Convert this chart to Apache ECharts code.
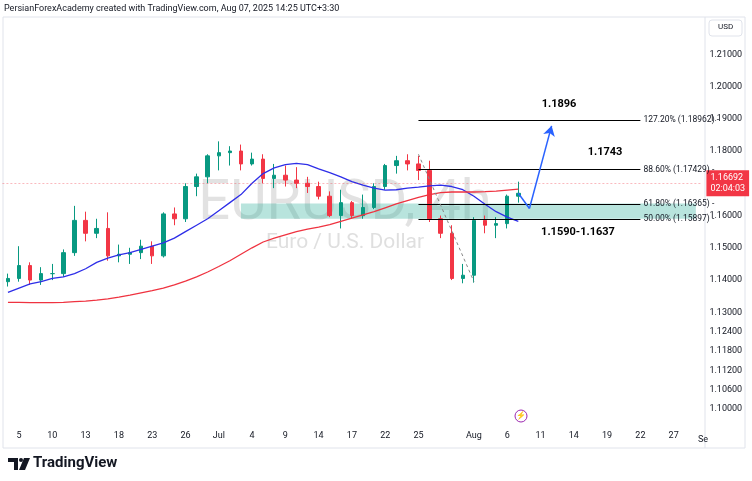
<!DOCTYPE html>
<html><head><meta charset="utf-8">
<script src="https://cdn.jsdelivr.net/npm/echarts@6/dist/echarts.min.js"></script>
<style>html,body{margin:0;padding:0;background:#fff}#c{width:752px;height:481px}</style>
</head><body><div id="c"></div>
<script>
const days = ['Jun 4','Jun 5','Jun 6','Jun 9','Jun 10','Jun 11','Jun 12','Jun 13','Jun 16','Jun 17','Jun 18','Jun 19','Jun 20','Jun 23','Jun 24','Jun 25','Jun 26','Jun 27','Jun 30',
'Jul 1','Jul 2','Jul 3','Jul 4','Jul 7','Jul 8','Jul 9','Jul 10','Jul 11','Jul 14','Jul 15','Jul 16','Jul 17','Jul 18','Jul 21','Jul 22','Jul 23','Jul 24','Jul 25','Jul 28','Jul 29','Jul 30','Jul 31',
'Aug 1','Aug 4','Aug 5','Aug 6','Aug 7','Aug 8','Aug 11','Aug 12','Aug 13','Aug 14','Aug 15','Aug 18','Aug 19','Aug 20','Aug 21','Aug 22','Aug 25','Aug 26','Aug 27','Aug 28','Aug 29'];
const tickLabels = {'Jun 5':'5','Jun 10':'10','Jun 13':'13','Jun 18':'18','Jun 23':'23','Jun 26':'26','Jul 1':'Jul','Jul 4':'4','Jul 9':'9','Jul 14':'14','Jul 17':'17','Jul 22':'22','Jul 25':'25','Aug 1':'Aug','Aug 6':'6','Aug 11':'11','Aug 14':'14','Aug 19':'19','Aug 22':'22','Aug 27':'27'};
const priceTicks = [1.21,1.20,1.19,1.18,1.17,1.16,1.15,1.14,1.13,1.124,1.118,1.112,1.106,1.10];
// [open, close, low, high]
const ohlc = [
[1.1395,1.1405,1.1380,1.1420],[1.1405,1.1445,1.1395,1.1505],[1.1445,1.1400,1.1385,1.1455],[1.1400,1.1420,1.1385,1.1440],
[1.1420,1.1420,1.1400,1.1450],[1.1420,1.1485,1.1410,1.1495],[1.1485,1.1585,1.1475,1.1630],[1.1585,1.1545,1.1520,1.1612],
[1.1545,1.1560,1.1530,1.1590],[1.1560,1.1475,1.1460,1.1610],[1.1475,1.1480,1.1455,1.1510],[1.1480,1.1485,1.1450,1.1500],
[1.1485,1.1505,1.1465,1.1525],[1.1505,1.1475,1.1450,1.1520],[1.1475,1.1605,1.1470,1.1610],[1.1605,1.1590,1.1570,1.1625],
[1.1590,1.1690,1.1580,1.1700],[1.1690,1.1720,1.1660,1.1730],[1.1720,1.1785,1.1700,1.1790],[1.1785,1.1795,1.1740,1.1830],
[1.1795,1.1800,1.1755,1.1815],[1.1800,1.1760,1.1740,1.1820],[1.1760,1.1775,1.1755,1.1795],[1.1775,1.1715,1.1700,1.1790],
[1.1715,1.1725,1.1685,1.1760],[1.1725,1.1710,1.1690,1.1755],[1.1710,1.1700,1.1685,1.1750],[1.1700,1.1690,1.1670,1.1720],
[1.1690,1.1660,1.1650,1.1705],[1.1660,1.1600,1.1595,1.1675],[1.1600,1.1640,1.1560,1.1680],[1.1640,1.1600,1.1590,1.1645],
[1.1600,1.1625,1.1590,1.1665],[1.1625,1.1690,1.1620,1.1700],[1.1690,1.1755,1.1680,1.1760],[1.1755,1.1770,1.1730,1.1785],
[1.1770,1.1760,1.1740,1.1790],[1.1760,1.1740,1.1710,1.1785],[1.1740,1.1590,1.1580,1.1770],[1.1590,1.1545,1.1530,1.1600],
[1.1545,1.1405,1.1400,1.1570],[1.1405,1.1415,1.1390,1.1450],[1.1415,1.1585,1.1392,1.1595],[1.1585,1.1570,1.1545,1.1600],
[1.1570,1.1575,1.1530,1.1595],[1.1575,1.1660,1.1560,1.1665],[1.1660,1.1669,1.1640,1.1705]];
const maBlue = [1.1362,1.1375,1.1388,1.1395,1.1405,1.1410,1.1420,1.1435,1.1455,1.1468,1.1478,1.1485,1.1495,1.1505,1.1515,1.1530,1.1550,1.1570,1.1590,1.1615,1.1640,1.1665,1.1700,1.1730,1.1748,1.1758,1.1762,1.1758,1.1745,1.1733,1.1720,1.1705,1.1694,1.1685,1.1679,1.1680,1.1685,1.1688,1.1692,1.1694,1.1690,1.1680,1.1660,1.1635,1.1612,1.1595,1.1582];
const maRed = [1.1331,1.1331,1.1330,1.1330,1.1330,1.1331,1.1333,1.1335,1.1338,1.1342,1.1347,1.1353,1.1360,1.1367,1.1375,1.1385,1.1397,1.1410,1.1425,1.1442,1.1460,1.1480,1.1500,1.1518,1.1530,1.1540,1.1550,1.1558,1.1564,1.1572,1.1582,1.1592,1.1602,1.1612,1.1624,1.1636,1.1646,1.1656,1.1665,1.1671,1.1673,1.1673,1.1673,1.1674,1.1676,1.1679,1.1682];
const lastPrice = 1.16692;
const fibs = [{v:1.18962,t:'127.20% (1.18962)'},{v:1.17429,t:'88.60% (1.17429)'},{v:1.16365,t:'61.80% (1.16365)'},{v:1.15897,t:'50.00% (1.15897)'}];
const zone = [1.1590,1.1637];
const path = [['Aug 7',1.1669],['Aug 8',1.1622],['Aug 12',1.1878]];

const chart = echarts.init(document.getElementById('c'));
const F = 'Roboto, "Liberation Sans", sans-serif';
chart.setOption({
  animation:false, backgroundColor:'#fff',
  grid:{left:2.4,top:22,width:699,height:400},
  xAxis:{type:'category',data:days,boundaryGap:true,
    axisLine:{show:false},axisTick:{show:false},splitLine:{show:false},
    axisLabel:{interval:0,margin:9,color:'#131722',fontSize:9,fontFamily:F,formatter:v=>tickLabels[v]||''}},
  yAxis:{type:'value',position:'right',min:1.096,max:1.22,interval:0.002,scale:true,
    axisLine:{show:false},axisTick:{show:false},splitLine:{show:false},
    axisLabel:{margin:8,color:'#131722',fontSize:9,fontFamily:F,
      formatter:v=>priceTicks.some(t=>Math.abs(t-v)<1e-6)?v.toFixed(5):''}},
  series:[
    {type:'candlestick',data:ohlc,barWidth:4,
     itemStyle:{color:'#089981',color0:'#F23645',borderColor:'#089981',borderColor0:'#F23645'},
     markArea:{silent:true,itemStyle:{color:'rgba(34,171,148,0.32)'},data:[[{coord:['Jul 3',zone[1]]},{coord:['Aug 29',zone[0]]}]]},
     markLine:{silent:true,symbol:['none','none'],data:[
       {yAxis:lastPrice,lineStyle:{color:'rgba(242,54,69,0.5)',type:[2,2],width:0.7},
        label:{position:'end',formatter:'1.16692\n02:04:03',backgroundColor:'#F23645',color:'#fff',fontSize:9,lineHeight:11,padding:[2,4],fontFamily:F,distance:5}},
       ...fibs.map(f=>[{coord:['Jul 25',f.v],lineStyle:{color:'#000',type:'solid',width:1.2},
          label:{position:'end',formatter:f.t+' -',color:'#131722',fontSize:8.5,fontFamily:F,distance:3}},{coord:['Aug 22',f.v]}]),
       [{coord:['Jul 25',1.1790],lineStyle:{color:'#888',type:[3,3],width:1},label:{show:false}},{coord:['Aug 1',1.1395]}],
       [{coord:path[0],lineStyle:{color:'#2962FF',type:'solid',width:1.5},label:{show:false}},{coord:path[1]}],
       [{coord:path[1],lineStyle:{color:'#2962FF',type:'solid',width:1.5},label:{show:false}},{coord:path[2],symbol:'arrow',symbolSize:[9,10]}]
     ]}},
    {type:'line',data:maBlue,showSymbol:false,lineStyle:{color:'#2E2EE8',width:1.3},z:3},
    {type:'line',data:maRed,showSymbol:false,lineStyle:{color:'#EF3340',width:1.3},z:3}
  ],
  graphic:[
    {type:'text',left:4,top:4,style:{text:'PersianForexAcademy created with TradingView.com, Aug 07, 2025 14:25 UTC+3:30',fontSize:9,fill:'#131722',fontFamily:F}},
    {type:'rect',shape:{x:3,y:17,width:742,height:431},style:{fill:'none',stroke:'#e0e3eb',lineWidth:1},z:-1},
    {type:'line',shape:{x1:705,y1:17,x2:705,y2:448},style:{stroke:'#e0e3eb'}},
    {type:'rect',shape:{x:709,y:20,width:33,height:16,r:3},style:{fill:'#fff',stroke:'#e0e3eb'}},
    {type:'text',x:718,y:23,style:{text:'USD',fontSize:8,fill:'#131722',fontFamily:F}},
    {type:'text',x:345,y:205,z:-2,style:{text:'EURUSD, 4h',fontSize:56,fill:'rgba(150,150,150,0.28)',fontFamily:F,align:'center',verticalAlign:'middle'}},
    {type:'text',x:345,y:243,z:-2,style:{text:'Euro / U.S. Dollar',fontSize:21,fill:'rgba(150,150,150,0.3)',fontFamily:F,align:'center',verticalAlign:'middle'}},
    {type:'text',x:559,y:104,style:{text:'1.1896',fontSize:11,fontWeight:'bold',fill:'#000',fontFamily:F,align:'center',verticalAlign:'middle'}},
    {type:'text',x:605,y:152,style:{text:'1.1743',fontSize:11,fontWeight:'bold',fill:'#000',fontFamily:F,align:'center',verticalAlign:'middle'}},
    {type:'text',x:578,y:232,style:{text:'1.1590-1.1637',fontSize:11,fontWeight:'bold',fill:'#000',fontFamily:F,align:'center',verticalAlign:'middle'}},
    {type:'text',x:703,y:435,style:{text:'Se',fontSize:9,fill:'#131722',fontFamily:F,align:'center'}},
    {type:'circle',shape:{cx:521,cy:416,r:6},style:{fill:'none',stroke:'#9c27b0',lineWidth:1}},
    {type:'text',x:521,y:416,style:{text:'⚡',fontSize:8,fill:'#9c27b0',align:'center',verticalAlign:'middle'}},
    {type:'polygon',shape:{points:[[8,458],[18,458],[18,470],[14,470],[14,462],[8,462]]},style:{fill:'#131722'}},
    {type:'circle',shape:{cx:21,cy:460,r:2},style:{fill:'#131722'}},
    {type:'polygon',shape:{points:[[24,458],[30,458],[25,470],[19,470]]},style:{fill:'#131722'}},
    {type:'text',x:33,y:456,style:{text:'TradingView',fontSize:15,fontWeight:'bold',fill:'#131722',fontFamily:F}}
  ]
});
</script></body></html>
